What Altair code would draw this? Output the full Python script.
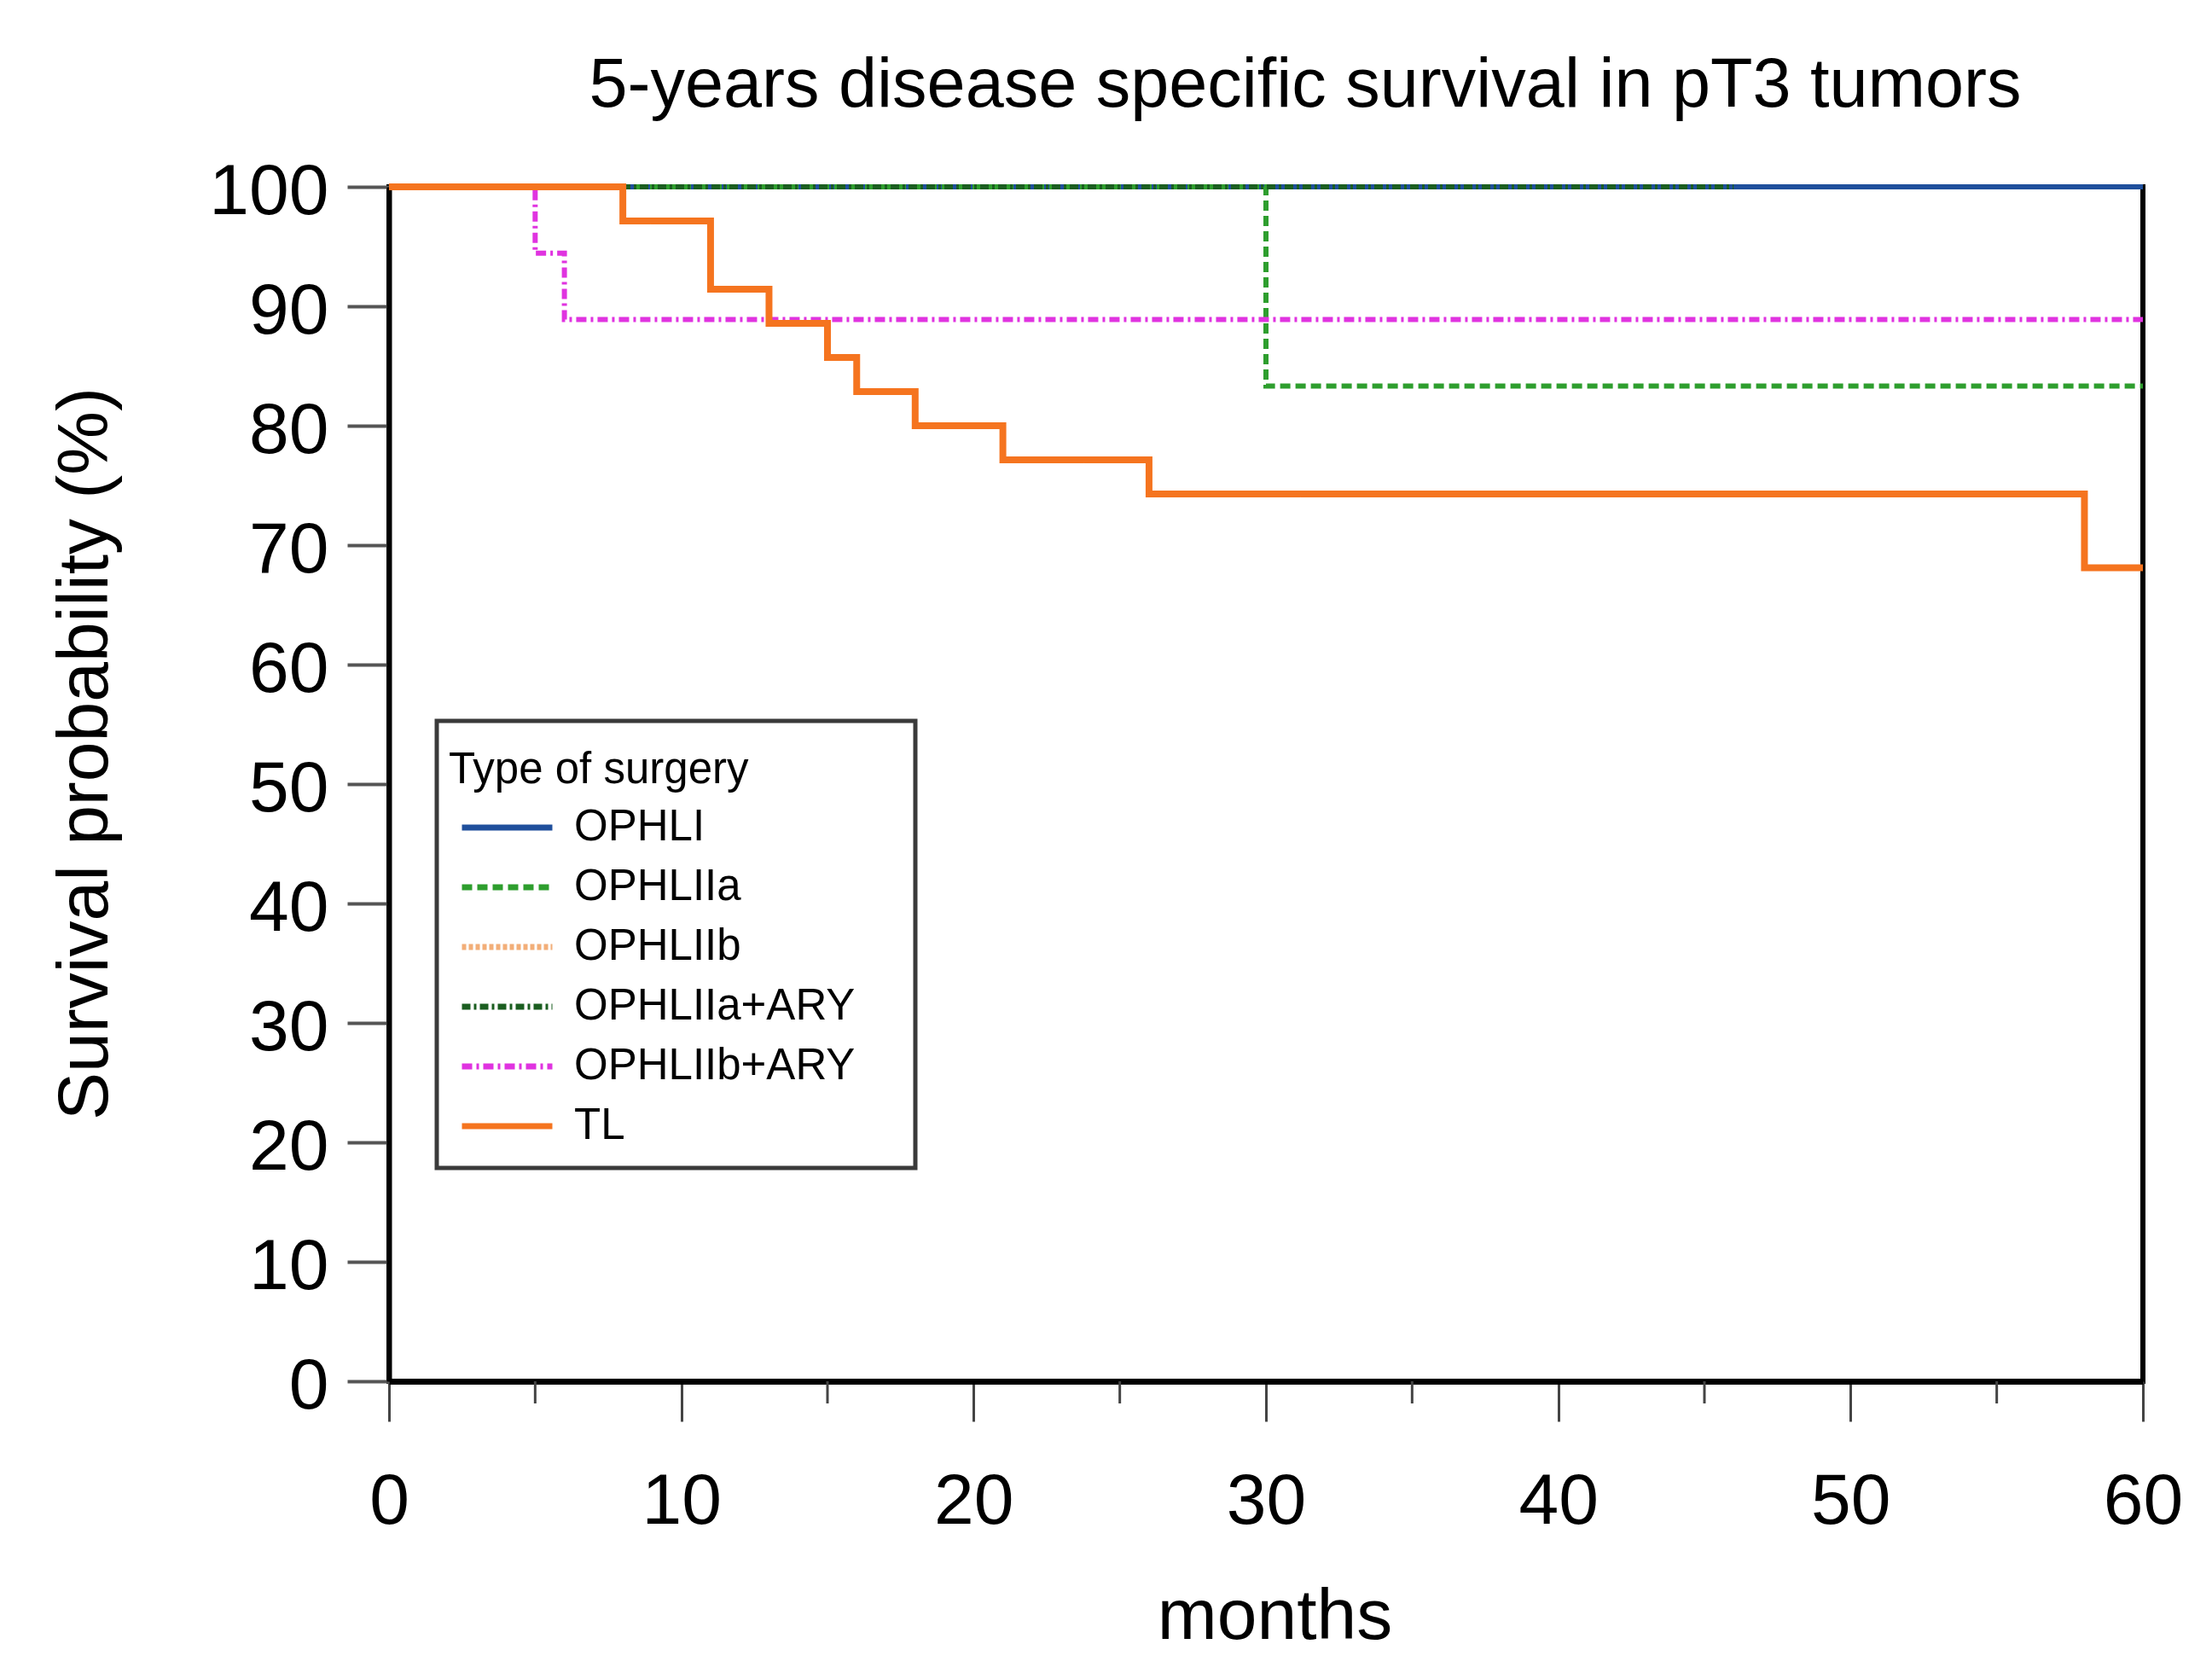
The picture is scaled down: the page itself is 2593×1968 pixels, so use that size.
import altair as alt
import pandas as pd

# ---- data ----
series = ["OPHLI", "OPHLIIa", "OPHLIIb", "OPHLIIa+ARY", "OPHLIIb+ARY", "TL"]
colors = ["#1f4f9c", "#2e9e2e", "#f2ae78", "#1b5e20", "#e033e0", "#f5741f"]
dashes = [[1, 0], [12, 6], [5, 3], [10, 4, 3, 4], [12, 5, 3, 5], [1, 0]]

ophli_t = [0, 60]
ophli_s = [100, 100]
ophliia_t = [0, 30, 60]
ophliia_s = [100, 83.33, 83.33]
ophliia_ary_t = [0, 46]
ophliia_ary_s = [100, 100]
ophliib_ary_t = [0, 5, 6, 60]
ophliib_ary_s = [100, 94.44, 88.89, 88.89]
tl_t = [0, 8, 11, 13, 15, 16, 18, 21, 26, 58, 60]
tl_s = [100, 97.14, 91.43, 88.57, 85.71, 82.86, 80.0, 77.14, 74.29, 68.1, 68.1]

x_ticks = [0, 10, 20, 30, 40, 50, 60]
x_minor = [5, 15, 25, 35, 45, 55]
y_ticks = [0, 10, 20, 30, 40, 50, 60, 70, 80, 90, 100]

rows = []
for name, ts, ss in [
    ("OPHLI", ophli_t, ophli_s),
    ("OPHLIIa", ophliia_t, ophliia_s),
    ("OPHLIIa+ARY", ophliia_ary_t, ophliia_ary_s),
    ("OPHLIIb+ARY", ophliib_ary_t, ophliib_ary_s),
    ("TL", tl_t, tl_s),
]:
    for i, (t, s) in enumerate(zip(ts, ss)):
        rows.append({"series": name, "month": t, "surv": s, "i": i})
df = pd.DataFrame(rows)
minor_df = pd.DataFrame({"month": x_minor})

FONT = "Liberation Sans"
xscale = alt.Scale(domain=[0, 60], nice=False, zero=False)
yscale = alt.Scale(domain=[0, 100], nice=False)

legend = alt.Legend(
    title=["", "Type of surgery"], titleLineHeight=19,
    orient="none", legendX=56, legendY=626, direction="vertical",
    titleFontSize=51, titleFontWeight="normal", titleColor="black", titleFont=FONT,
    labelFontSize=51, labelColor="black", labelFont=FONT, labelLimit=1000, titleLimit=1000,
    labelExpr="datum.label + '\u00a0\u00a0\u00a0\u00a0\u200b'",
    symbolType="stroke", symbolSize=11236, symbolStrokeWidth=7,
    clipHeight=70, rowPadding=0, padding=14, titlePadding=6,
    labelOffset=22, symbolOffset=12,
    strokeColor="#3a3a3a", fillColor="white",
)

xaxis = alt.Axis(
    values=x_ticks, title="months", format="d",
    labelFontSize=84, labelFont=FONT, labelColor="black", labelFlush=False,
    labelPadding=53, tickSize=47, tickWidth=3, tickColor="#444",
    domainColor="black", domainWidth=7,
    titleFontSize=84, titleFont=FONT, titleFontWeight="normal", titleColor="black",
    titleX=1038, titleY=301, titleBaseline="alphabetic", titleAlign="center",
    labelOverlap=False,
)

lines = alt.Chart(df).mark_line(interpolate="step-after").encode(
    x=alt.X("month:Q", scale=xscale, axis=xaxis),
    y=alt.Y("surv:Q", scale=yscale, axis=alt.Axis(
        values=y_ticks, title="Survival probability (%)", format="d",
        labelFontSize=84, labelFont=FONT, labelColor="black", labelPadding=22,
        labelOffset=6, labelBaseline="middle",
        tickSize=49, tickWidth=4, tickColor="#555",
        domainColor="black", domainWidth=6,
        titleFontSize=84, titleFont=FONT, titleFontWeight="normal", titleColor="black",
        titleAngle=270, titleX=-313, titleY=664, titleBaseline="bottom", titleAlign="center",
        labelOverlap=False,
    )),
    color=alt.Color("series:N", scale=alt.Scale(domain=series, range=colors), legend=legend),
    strokeDash=alt.StrokeDash("series:N", scale=alt.Scale(domain=series, range=dashes), legend=legend),
    strokeWidth=alt.condition(alt.datum.series == "TL", alt.value(8), alt.value(6)),
    order="i:Q",
)

minor = alt.Chart(minor_df).mark_rule(color="#444", strokeWidth=3).encode(
    x=alt.X("month:Q", scale=xscale, axis=xaxis),
    y=alt.value(1400),
    y2=alt.value(1426),
)

chart = alt.layer(lines, minor).properties(
    width=2056, height=1400,
    autosize=alt.AutoSizeParams(type="none"),
    padding={"left": 448, "top": 211, "right": 60, "bottom": 330},
    background="white",
    title=alt.TitleParams(
        text="5-years disease specific survival in pT3 tumors",
        fontSize=81, font=FONT, fontWeight="normal", color="black",
        anchor="middle", frame="group", dx=46, dy=85, baseline="alphabetic", offset=62,
    ),
).configure_view(stroke="black", strokeWidth=6).configure_axis(grid=False).configure_legend(strokeWidth=5)

chart.save("out.html", embed_options={"renderer": "svg", "actions": False})
